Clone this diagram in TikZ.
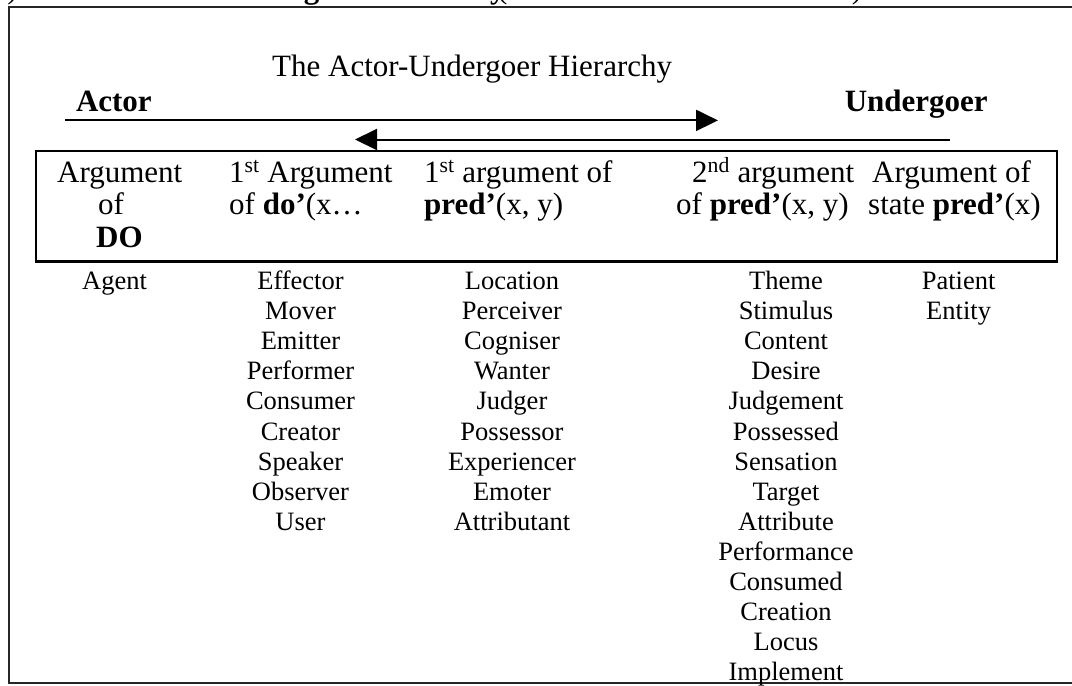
\documentclass[tikz,border=0pt]{standalone}
\usepackage{fontspec}
\setmainfont{Liberation Serif}
\usetikzlibrary{arrows.meta}
\begin{document}
\begin{tikzpicture}[x=1pt,y=-1pt,
  big/.style={font=\fontsize{31}{35}\selectfont, inner sep=0pt, anchor=base west},
  item/.style={font=\fontsize{26.5}{30}\selectfont, inner sep=0pt, anchor=base},
  frameline/.style={line width=2pt, black!85},
  tablebox/.style={line width=2.5pt},
  hier/.style={line width=2pt, -{Triangle[length=22pt,width=21pt]}}]
\useasboundingbox (0,0) rectangle (1072,686);
\begin{scope}
\clip (0,0) rectangle (1072,686);

% heading line above the frame (only its lower edge falls on the page)
\node[big, anchor=base east] (hnum) at (18,-1.5) {(8)};
\node[big] (htitle) at (75,-1.5) {\textbf{The Actor-Undergoer Hierarchy}};
\node[big] (hsrc) at (497,-1.5) {(van Valin and LaPolla 1997)};

% outer frame, open on the right
\draw[frameline] (1080,6.5) -- (8.5,6.5) -- (8.5,683) -- (1080,683);

% title and the two ends of the hierarchy
\node[big] (title) at (272,76) {The Actor-Undergoer Hierarchy};
\node[big] (actor) at (75.8,111.6) {\textbf{Actor}};
\node[big] (undergoer) at (844.6,111.8) {\textbf{Undergoer}};

% the two opposed arrows
\coordinate (a1) at (65,120.4);
\coordinate (a2) at (718,120.4);
\coordinate (b1) at (950,139.5);
\coordinate (b2) at (355,139.5);
\draw[hier] (a1) -- (a2);
\draw[hier] (b1) -- (b2);

% box with the argument positions
\draw[tablebox] (36,150.8) rectangle (1057,261.6);

\node[big] (c1r1) at (57,182) {Argument};
\node[big] (c1r2) at (98,214.5) {of};
\node[big] (c1r3) at (96,247) {\textbf{DO}};

\node[big] (c2r1) at (229,182) {1\textsuperscript{st} Argument};
\node[big] (c2r2) at (229,214.5) {of \textbf{do’}(x…};

\node[big] (c3r1) at (424,182) {1\textsuperscript{st} argument of};
\node[big] (c3r2) at (424,214.5) {\textbf{pred’}(x, y)};

\node[big] (c4r1) at (692,182) {2\textsuperscript{nd} argument};
\node[big] (c4r2) at (676,214.5) {of \textbf{pred’}(x, y)};

\node[big] (c5r1) at (872,182) {Argument of};
\node[big] (c5r2) at (868,214.5) {state \textbf{pred’}(x)};

% thematic relations under each position
\foreach \t [count=\i from 0] in {Agent}
  \node[item] (la-\i) at (114.5,289.5+30.1*\i) {\t};
\foreach \t [count=\i from 0] in {Effector,Mover,Emitter,Performer,Consumer,Creator,Speaker,Observer,User}
  \node[item] (lb-\i) at (300.5,289.5+30.1*\i) {\t};
\foreach \t [count=\i from 0] in {Location,Perceiver,Cogniser,Wanter,Judger,Possessor,Experiencer,Emoter,Attributant}
  \node[item] (lc-\i) at (512,289.5+30.1*\i) {\t};
\foreach \t [count=\i from 0] in {Theme,Stimulus,Content,Desire,Judgement,Possessed,Sensation,Target,Attribute,Performance,Consumed,Creation,Locus,Implement}
  \node[item] (ld-\i) at (786,289.5+30.1*\i) {\t};
\foreach \t [count=\i from 0] in {Patient,Entity}
  \node[item] (le-\i) at (958.6,289.5+30.1*\i) {\t};
\end{scope}
\end{tikzpicture}
\end{document}
